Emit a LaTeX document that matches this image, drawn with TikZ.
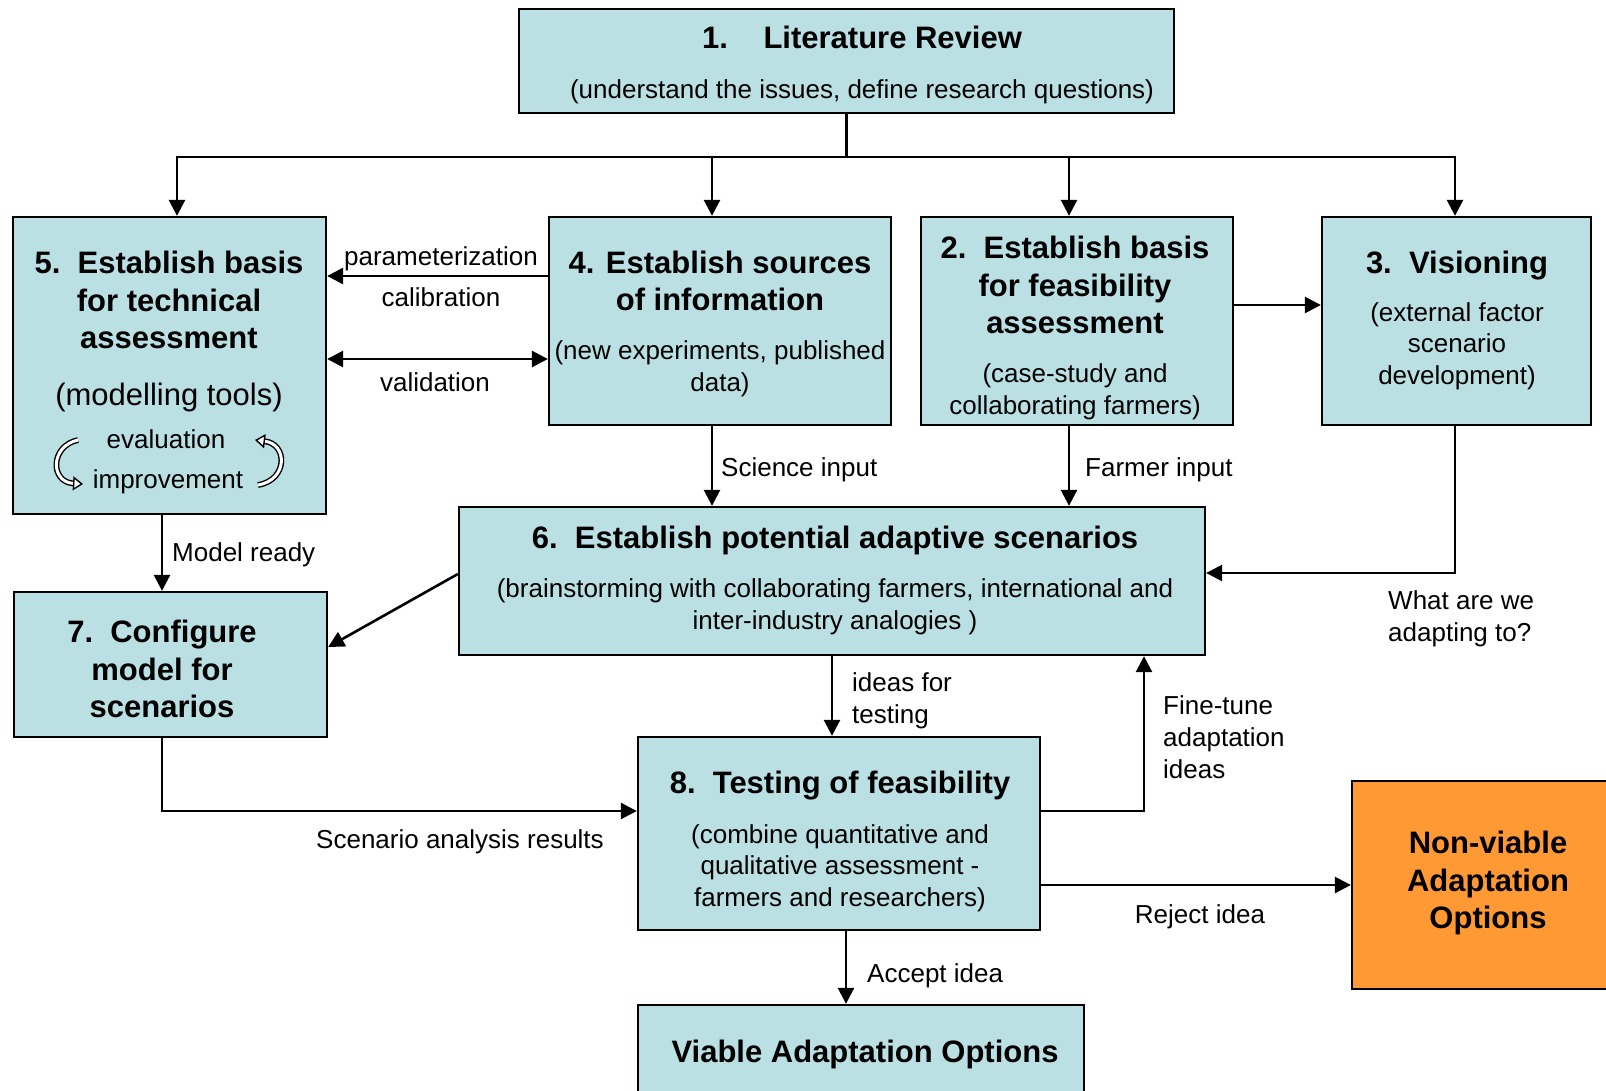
\documentclass[tikz,border=0pt]{standalone}
\usepackage{fontspec}
\setmainfont{Liberation Sans}
\usetikzlibrary{arrows.meta}
\definecolor{boxblue}{RGB}{186,224,228}
\definecolor{boxorange}{RGB}{255,153,51}
\begin{document}
\begin{tikzpicture}[x=1pt,y=-1pt,
  box/.style={draw=black, line width=2.3pt, fill=boxblue, inner sep=0pt},
  obox/.style={draw=black, line width=2.3pt, fill=boxorange, inner sep=0pt},
  conn/.style={line width=2.6pt, -{Triangle[length=16pt,width=16pt]}},
  dconn/.style={line width=2.6pt, {Triangle[length=16pt,width=16pt]}-{Triangle[length=16pt,width=16pt]}},
  plain/.style={line width=2.6pt, line cap=rect},
  ttl/.style={font=\fontsize{31}{37.5}\selectfont\bfseries, align=center, inner sep=0pt},
  sub/.style={font=\fontsize{26}{31.7}\selectfont, align=center, inner sep=0pt},
  lbl/.style={font=\fontsize{26}{31.7}\selectfont, inner sep=0pt},
  loop/.style={line width=1.4pt, double=white, double distance=3pt, -{Triangle[open, fill=white, length=10pt, width=14pt, line width=1.4pt]}}
]
\clip (0,0) rectangle (1606,1090);
\fill[white] (0,0) rectangle (1606,1090);

% boxes
\node[box, minimum width=655, minimum height=104] (b1) at (846.5,61) {};
\node[box, minimum width=313, minimum height=297] (b5) at (169.5,365.5) {};
\node[box, minimum width=342, minimum height=208] (b4) at (720,321) {};
\node[box, minimum width=312, minimum height=208] (b2) at (1077,321) {};
\node[box, minimum width=269, minimum height=208] (b3) at (1456.5,321) {};
\node[box, minimum width=746, minimum height=148] (b6) at (832,581) {};
\node[box, minimum width=313, minimum height=145] (b7) at (170.5,664.5) {};
\node[box, minimum width=402, minimum height=193] (b8) at (839,833.5) {};
\node[box, minimum width=446, minimum height=105] (bV) at (861,1057.5) {};
\node[obox, minimum width=273, minimum height=208] (bNV) at (1488.5,885) {};

% texts in boxes
\node[ttl] (t1a) at (862,37) {1.\hspace{1.15em}Literature Review};
\node[sub] (t1b) at (862,92) {(understand the issues, define research questions)};
\node[ttl] (t5a) at (169,300) {5.~~Establish basis\\for technical\\assessment};
\node[font=\fontsize{31}{37.5}\selectfont, inner sep=0pt] (t5b) at (169,397) {(modelling tools)};
\node[lbl] (t5c) at (166,439) {evaluation};
\node[lbl] (t5d) at (168,482) {improvement};
\node[ttl] (t4a) at (720,281) {4. Establish sources\\of information};
\node[sub] (t4b) at (720,369) {(new experiments, published\\data)};
\node[ttl] (t2a) at (1075,285) {2.~~Establish basis\\for feasibility\\assessment};
\node[sub] (t2b) at (1075,392) {(case-study and\\collaborating farmers)};
\node[ttl] (t3a) at (1457,266) {3.~~Visioning};
\node[sub] (t3b) at (1457,346) {(external factor\\scenario\\development)};
\node[ttl] (t6a) at (835,540) {6.~~Establish potential adaptive scenarios};
\node[sub] (t6b) at (835,607) {(brainstorming with collaborating farmers, international and\\inter-industry analogies )};
\node[ttl] (t7) at (162,669) {7.~~Configure\\model for\\scenarios};
\node[ttl] (t8a) at (840,786) {8.~~Testing of feasibility};
\node[sub] (t8b) at (840,868) {(combine quantitative and\\qualitative assessment -\\farmers and researchers)};
\node[ttl] (tNV) at (1488,883) {Non-viable\\Adaptation\\Options};
\node[ttl] (tV) at (865,1054) {Viable Adaptation Options};

% evaluation / improvement loop arrows
\draw[loop] (78,440) .. controls (50,446) and (50,482) .. (83,484);
\draw[loop] (258,485) .. controls (288,480) and (288,444) .. (255,440);

% coordinates
\coordinate (split) at (846.5,157);
\coordinate (hl) at (177,157);
\coordinate (hr) at (1455,157);
\coordinate (a4) at (712,157);
\coordinate (a2) at (1069,157);
\coordinate (yp) at (0,276);
\coordinate (yv) at (0,359);
\coordinate (y23) at (0,305);
\coordinate (y36) at (0,573);
\coordinate (x57) at (162,0);
\coordinate (y574) at (0,574);
\coordinate (y647) at (0,647);
\coordinate (y811) at (0,811);
\coordinate (x86) at (1144,0);
\coordinate (x8v) at (846,0);

% connectors
\draw[plain] (b1.south) -- (split);
\draw[plain] (hl) -- (hr);
\draw[conn] (hl) -- (hl |- b5.north);
\draw[conn] (a4) -- (a4 |- b4.north);
\draw[conn] (a2) -- (a2 |- b2.north);
\draw[conn] (hr) -- (hr |- b3.north);
\draw[conn] (b4.west |- yp) -- (b5.east |- yp);
\draw[dconn] (b5.east |- yv) -- (b4.west |- yv);
\draw[conn] (b2.east |- y23) -- (b3.west |- y23);
\draw[conn] (b4.south -| a4) -- (b6.north -| a4);
\draw[conn] (b2.south -| a2) -- (b6.north -| a2);
\draw[conn] (b3.south -| hr) |- (b6.east |- y36);
\draw[conn] (b5.south -| x57) -- (b7.north -| x57);
\draw[conn] (b6.west |- y574) -- (b7.east |- y647);
\draw[conn] (b6.south) -- (b6.south |- b8.north);
\draw[conn] (b7.south -| x57) |- (b8.west |- y811);
\draw[conn] (b8.east |- y811) -| (b6.south -| x86);
\draw[conn] (b8.east |- bNV.west) -- (bNV.west);
\draw[conn] (b8.south -| x8v) -- (bV.north -| x8v);

% connector labels
\node[lbl] (lpar) at (441,259) {parameterization};
\node[lbl] (lcal) at (441,297) {calibration};
\node[lbl] (lval) at (435,382) {validation};
\node[lbl, anchor=west] (lsci) at (721,470) {Science input};
\node[lbl, anchor=west] (lfar) at (1085,470) {Farmer input};
\node[lbl, anchor=west] (lmod) at (172,555) {Model ready};
\node[lbl, anchor=west, align=left] (lwhat) at (1388,619) {What are we\\adapting to?};
\node[lbl, anchor=west, align=left] (lidea) at (852,701) {ideas for\\testing};
\node[lbl, anchor=west, align=left] (lfine) at (1163,737) {Fine-tune\\adaptation\\ideas};
\node[lbl] (lscen) at (460,842) {Scenario analysis results};
\node[lbl] (lrej) at (1200,917) {Reject idea};
\node[lbl, anchor=west] (lacc) at (867,976) {Accept idea};
\end{tikzpicture}
\end{document}
